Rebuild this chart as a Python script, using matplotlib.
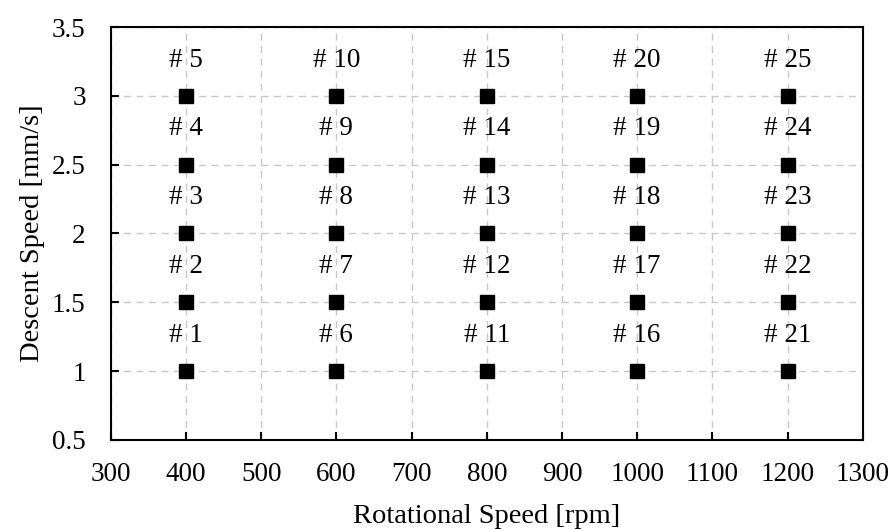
import matplotlib
matplotlib.use("Agg")
import matplotlib.pyplot as plt
import numpy as np

plt.rcParams["font.family"] = ["Liberation Serif", "DejaVu Serif"]

ROT_SPEED = [400, 600, 800, 1000, 1200]          # rpm
DESC_SPEED = [1.0, 1.5, 2.0, 2.5, 3.0]            # mm/s
XTICKS = list(range(300, 1301, 100))
YTICKS = [0.5, 1, 1.5, 2, 2.5, 3, 3.5]
YTICK_LABELS = ["0.5", "1", "1.5", "2", "2.5", "3", "3.5"]

fig = plt.figure(figsize=(8.94, 5.30), dpi=100)
ax = fig.add_axes([0.124, 0.170, 0.841, 0.779])

n = 1
for x in ROT_SPEED:
    for y in DESC_SPEED:
        ax.plot(x, y, "s", color="black", markersize=10, zorder=3)
        ax.text(x, y + 0.26, f"# {n}", ha="center", va="center", fontsize=19.5)
        n += 1

ax.set_xlim(300, 1300)
ax.set_ylim(0.5, 3.5)
ax.set_xticks(XTICKS)
ax.set_yticks(YTICKS)
ax.set_yticklabels(YTICK_LABELS)
ax.tick_params(direction="in", length=6, width=1.5, labelsize=19.5)
ax.tick_params(axis="x", pad=16)
ax.tick_params(axis="y", pad=18)
ax.grid(True, color="#c8c8c8", linestyle=(0, (5, 4)), linewidth=1.0)
ax.set_axisbelow(True)
for s in ax.spines.values():
    s.set_linewidth(1.5)
ax.set_xlabel("Rotational Speed [rpm]", fontsize=20.5, labelpad=12)
ax.set_ylabel("Descent Speed [mm/s]", fontsize=20.5, labelpad=5)

fig.savefig("out.png", dpi=100)
